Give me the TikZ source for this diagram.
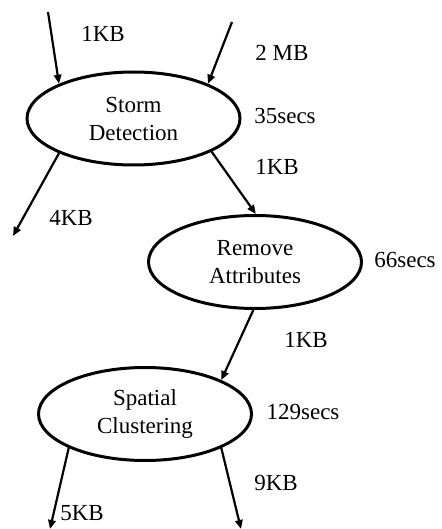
\documentclass[tikz,border=0pt]{standalone}
\usepackage{fontspec}
\setmainfont{Liberation Serif}
\usetikzlibrary{arrows.meta,shapes.geometric}
\begin{document}
\begin{tikzpicture}[x=1pt,y=-1pt,
  proc/.style={ellipse,draw,line width=3pt,minimum width=213pt,minimum height=93pt,inner sep=0pt,align=center,font=\fontsize{23}{28}\selectfont},
  flow/.style={line width=2.2pt,-{Triangle[length=9pt,width=7.5pt]}},
  lbl/.style={font=\fontsize{23}{27}\selectfont,inner sep=0pt}]
\useasboundingbox (0,0) rectangle (441,529);
\node[proc] (sd) at (133.5,118.5) {Storm\\Detection};
\node[proc] (ra) at (255,262) {Remove\\Attributes};
\node[proc] (sc) at (145,414) {Spatial\\Clustering};
\coordinate (in1) at (48,12);
\coordinate (in2) at (232,22);
\coordinate (out1) at (13,236);
\coordinate (out2) at (50,529);
\coordinate (out3) at (241,529);
\draw[flow] (in1) -- (sd.155);
\draw[flow] (in2) -- (sd.25);
\draw[flow] (sd.205) -- (out1);
\draw[flow] (sd.337) -- (ra.89);
\draw[flow] (ra.268) -- (sc.24);
\draw[flow] (sc.204) -- (out2);
\draw[flow] (sc.336) -- (out3);
\node[lbl] (l1) at (103,34) {1KB};
\node[lbl] (l2) at (282,53) {2 MB};
\node[lbl] (l3) at (285,116) {35secs};
\node[lbl] (l4) at (277,167) {1KB};
\node[lbl] (l5) at (71,218) {4KB};
\node[lbl] (l6) at (405,260) {66secs};
\node[lbl] (l7) at (306,340) {1KB};
\node[lbl] (l8) at (303,412) {129secs};
\node[lbl] (l9) at (276,483) {9KB};
\node[lbl] (l10) at (82,513) {5KB};
\end{tikzpicture}
\end{document}
